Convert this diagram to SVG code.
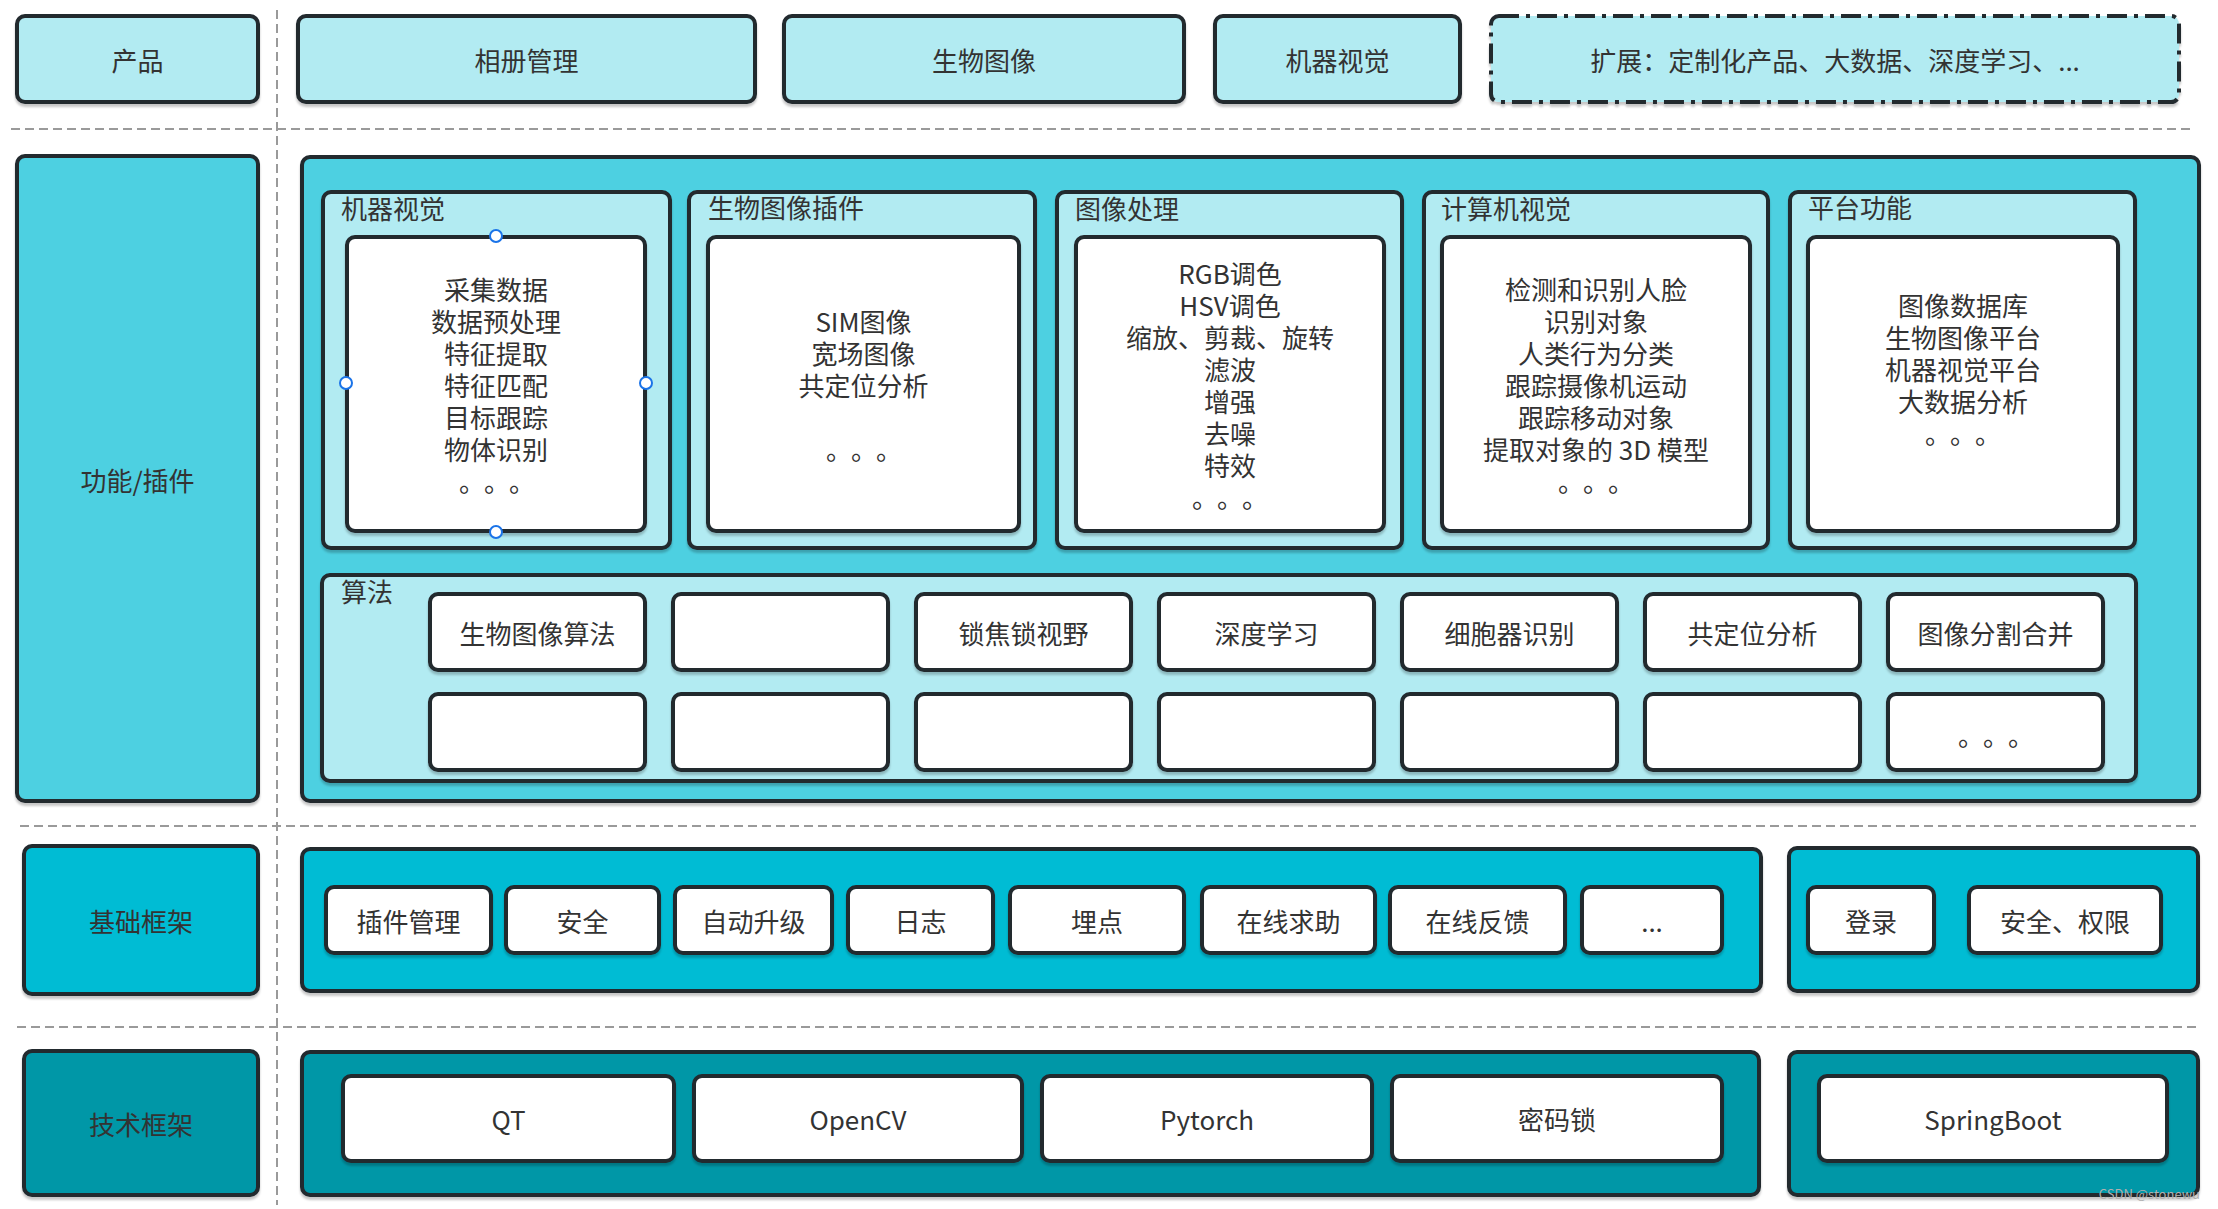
<svg xmlns="http://www.w3.org/2000/svg" width="2218" height="1209" viewBox="0 0 2218 1209">
<defs>
<filter id="sh" x="-5%" y="-5%" width="110%" height="115%">
<feDropShadow dx="0" dy="3" stdDeviation="1.2" flood-color="#000" flood-opacity="0.22"/>
</filter>
</defs>
<style>
.b{stroke:#22292f;stroke-width:4;filter:url(#sh)}
.l1{fill:#B2EBF2}
.l2{fill:#4DD0E1}
.l3{fill:#00BCD4}
.l4{fill:#0097A7}
.w{fill:#ffffff}
.dash{stroke:#9a9a9a;stroke-width:2;stroke-dasharray:9 5;fill:none}
text{font-family:"Noto Sans CJK SC","Noto Sans",sans-serif;font-size:26px;fill:#333333}
.c{text-anchor:middle;dominant-baseline:central}
.lab{dominant-baseline:central}
.d{letter-spacing:12px}
.h{fill:#ffffff;stroke:#1a73e8;stroke-width:2}
</style>

<g id="separators">
<line class="dash" x1="277" y1="10" x2="277" y2="1205"/>
<line class="dash" x1="11" y1="129" x2="2194" y2="129"/>
<line class="dash" x1="20" y1="826" x2="2196" y2="826"/>
<line class="dash" x1="17" y1="1027" x2="2200" y2="1027"/>
</g>

<g id="connectors"></g>

<!-- Product row -->
<g id="row-product">
<rect class="b l1" x="17" y="16" width="241" height="86" rx="8"/>
<text class="c" x="137.5" y="59">产品</text>
</g>
<g id="prod-album">
<rect class="b l1" x="298" y="16" width="457" height="86" rx="8"/>
<text class="c" x="526.5" y="59">相册管理</text>
</g>
<g id="prod-bio">
<rect class="b l1" x="784" y="16" width="400" height="86" rx="8"/>
<text class="c" x="984" y="59">生物图像</text>
</g>
<g id="prod-mv">
<rect class="b l1" x="1215" y="16" width="245" height="86" rx="8"/>
<text class="c" x="1337.5" y="59">机器视觉</text>
</g>
<g id="prod-ext">
<rect class="l1" x="1491" y="16" width="688" height="86" rx="8" stroke="#22292f" stroke-width="4" stroke-dasharray="20 7 4 7" filter="url(#sh)"/>
<text class="c" x="1835" y="59">扩展：定制化产品、大数据、深度学习、...</text>
</g>

<!-- Function / plugin row -->
<g id="row-function">
<rect class="b l2" x="17" y="156" width="241" height="645" rx="8"/>
<text class="c" x="137.5" y="479">功能/插件</text>
</g>
<g id="function-area">
<rect class="b l2" x="302" y="157" width="1897" height="644" rx="8"/>
</g>

<g id="sec-mv">
<rect class="b l1" x="323" y="192" width="347" height="356" rx="8"/>
<text class="lab" x="341" y="207">机器视觉</text>
<rect class="b w" x="347" y="237" width="298" height="294" rx="8"/>
<text class="c" x="496" y="288">采集数据</text>
<text class="c" x="496" y="320">数据预处理</text>
<text class="c" x="496" y="352">特征提取</text>
<text class="c" x="496" y="384">特征匹配</text>
<text class="c" x="496" y="416">目标跟踪</text>
<text class="c" x="496" y="448">物体识别</text>
<text class="c d" x="503" y="480">。。。</text>
<circle class="h" cx="496" cy="236" r="6"/>
<circle class="h" cx="496" cy="532" r="6"/>
<circle class="h" cx="346" cy="383" r="6"/>
<circle class="h" cx="646" cy="383" r="6"/>
</g>

<g id="sec-bio">
<rect class="b l1" x="689" y="192" width="346" height="356" rx="8"/>
<text class="lab" x="708" y="206">生物图像插件</text>
<rect class="b w" x="708" y="237" width="311" height="294" rx="8"/>
<text class="c" x="863.5" y="320">SIM图像</text>
<text class="c" x="863.5" y="352">宽场图像</text>
<text class="c" x="863.5" y="384">共定位分析</text>
<text class="c d" x="870" y="448">。。。</text>
</g>

<g id="sec-imgproc">
<rect class="b l1" x="1057" y="192" width="345" height="356" rx="8"/>
<text class="lab" x="1075" y="207">图像处理</text>
<rect class="b w" x="1076" y="237" width="308" height="294" rx="8"/>
<text class="c" x="1230" y="272">RGB调色</text>
<text class="c" x="1230" y="304">HSV调色</text>
<text class="c" x="1230" y="336">缩放、剪裁、旋转</text>
<text class="c" x="1230" y="368">滤波</text>
<text class="c" x="1230" y="400">增强</text>
<text class="c" x="1230" y="432">去噪</text>
<text class="c" x="1230" y="464">特效</text>
<text class="c d" x="1236" y="496">。。。</text>
</g>

<g id="sec-cv">
<rect class="b l1" x="1424" y="192" width="344" height="356" rx="8"/>
<text class="lab" x="1441" y="207">计算机视觉</text>
<rect class="b w" x="1442" y="237" width="308" height="294" rx="8"/>
<text class="c" x="1596" y="288">检测和识别人脸</text>
<text class="c" x="1596" y="320">识别对象</text>
<text class="c" x="1596" y="352">人类行为分类</text>
<text class="c" x="1596" y="384">跟踪摄像机运动</text>
<text class="c" x="1596" y="416">跟踪移动对象</text>
<text class="c" x="1596" y="448">提取对象的 3D 模型</text>
<text class="c d" x="1602" y="480">。。。</text>
</g>

<g id="sec-platform">
<rect class="b l1" x="1790" y="192" width="345" height="356" rx="8"/>
<text class="lab" x="1808" y="206">平台功能</text>
<rect class="b w" x="1808" y="237" width="310" height="294" rx="8"/>
<text class="c" x="1963" y="304">图像数据库</text>
<text class="c" x="1963" y="336">生物图像平台</text>
<text class="c" x="1963" y="368">机器视觉平台</text>
<text class="c" x="1963" y="400">大数据分析</text>
<text class="c d" x="1969" y="432">。。。</text>
</g>

<g id="sec-algo">
<rect class="b l1" x="322" y="575" width="1814" height="206" rx="8"/>
<text class="lab" x="341" y="590">算法</text>
</g>
<g id="algo-1"><rect class="b w" x="430" y="594" width="215" height="76" rx="8"/><text class="c" x="537.5" y="632">生物图像算法</text></g>
<g id="algo-2"><rect class="b w" x="673" y="594" width="215" height="76" rx="8"/></g>
<g id="algo-3"><rect class="b w" x="916" y="594" width="215" height="76" rx="8"/><text class="c" x="1023.5" y="632">锁焦锁视野</text></g>
<g id="algo-4"><rect class="b w" x="1159" y="594" width="215" height="76" rx="8"/><text class="c" x="1266.5" y="632">深度学习</text></g>
<g id="algo-5"><rect class="b w" x="1402" y="594" width="215" height="76" rx="8"/><text class="c" x="1509.5" y="632">细胞器识别</text></g>
<g id="algo-6"><rect class="b w" x="1645" y="594" width="215" height="76" rx="8"/><text class="c" x="1752.5" y="632">共定位分析</text></g>
<g id="algo-7"><rect class="b w" x="1888" y="594" width="215" height="76" rx="8"/><text class="c" x="1995.5" y="632">图像分割合并</text></g>
<g id="algo-8"><rect class="b w" x="430" y="694" width="215" height="76" rx="8"/></g>
<g id="algo-9"><rect class="b w" x="673" y="694" width="215" height="76" rx="8"/></g>
<g id="algo-10"><rect class="b w" x="916" y="694" width="215" height="76" rx="8"/></g>
<g id="algo-11"><rect class="b w" x="1159" y="694" width="215" height="76" rx="8"/></g>
<g id="algo-12"><rect class="b w" x="1402" y="694" width="215" height="76" rx="8"/></g>
<g id="algo-13"><rect class="b w" x="1645" y="694" width="215" height="76" rx="8"/></g>
<g id="algo-14"><rect class="b w" x="1888" y="694" width="215" height="76" rx="8"/><text class="c d" x="2002" y="734">。。。</text></g>

<!-- Basic framework -->
<g id="row-basic">
<rect class="b l3" x="24" y="846" width="234" height="148" rx="8"/>
<text class="c" x="141" y="920">基础框架</text>
</g>
<g id="basic-area">
<rect class="b l3" x="302" y="849" width="1459" height="142" rx="8"/>
</g>
<g id="basic-area-2">
<rect class="b l3" x="1789" y="848" width="409" height="143" rx="8"/>
</g>
<g id="bf-1"><rect class="b w" x="326" y="887" width="165" height="66" rx="8"/><text class="c" x="408.5" y="920">插件管理</text></g>
<g id="bf-2"><rect class="b w" x="506" y="887" width="153" height="66" rx="8"/><text class="c" x="582.5" y="920">安全</text></g>
<g id="bf-3"><rect class="b w" x="675" y="887" width="157" height="66" rx="8"/><text class="c" x="753.5" y="920">自动升级</text></g>
<g id="bf-4"><rect class="b w" x="848" y="887" width="145" height="66" rx="8"/><text class="c" x="920.5" y="920">日志</text></g>
<g id="bf-5"><rect class="b w" x="1010" y="887" width="174" height="66" rx="8"/><text class="c" x="1097" y="920">埋点</text></g>
<g id="bf-6"><rect class="b w" x="1202" y="887" width="173" height="66" rx="8"/><text class="c" x="1288.5" y="920">在线求助</text></g>
<g id="bf-7"><rect class="b w" x="1390" y="887" width="175" height="66" rx="8"/><text class="c" x="1477.5" y="920">在线反馈</text></g>
<g id="bf-8"><rect class="b w" x="1582" y="887" width="140" height="66" rx="8"/><text class="c" x="1652" y="920">...</text></g>
<g id="bf-9"><rect class="b w" x="1808" y="887" width="126" height="66" rx="8"/><text class="c" x="1871" y="920">登录</text></g>
<g id="bf-10"><rect class="b w" x="1969" y="887" width="192" height="66" rx="8"/><text class="c" x="2065" y="920">安全、权限</text></g>

<!-- Tech framework -->
<g id="row-tech">
<rect class="b l4" x="24" y="1051" width="234" height="144" rx="8"/>
<text class="c" x="141" y="1123">技术框架</text>
</g>
<g id="tech-area">
<rect class="b l4" x="302" y="1052" width="1457" height="143" rx="8"/>
</g>
<g id="tech-area-2">
<rect class="b l4" x="1789" y="1052" width="409" height="143" rx="8"/>
</g>
<g id="tf-1"><rect class="b w" x="343" y="1076" width="331" height="85" rx="8"/><text class="c" x="508.5" y="1118">QT</text></g>
<g id="tf-2"><rect class="b w" x="694" y="1076" width="328" height="85" rx="8"/><text class="c" x="858" y="1118">OpenCV</text></g>
<g id="tf-3"><rect class="b w" x="1042" y="1076" width="330" height="85" rx="8"/><text class="c" x="1207" y="1118">Pytorch</text></g>
<g id="tf-4"><rect class="b w" x="1392" y="1076" width="330" height="85" rx="8"/><text class="c" x="1557" y="1118">密码锁</text></g>
<g id="tf-5"><rect class="b w" x="1819" y="1076" width="348" height="85" rx="8"/><text class="c" x="1993" y="1118">SpringBoot</text></g>

<text x="2200" y="1199" style="font-size:13px;fill:#b0b0b0;text-anchor:end">CSDN @stonewu</text>
</svg>
